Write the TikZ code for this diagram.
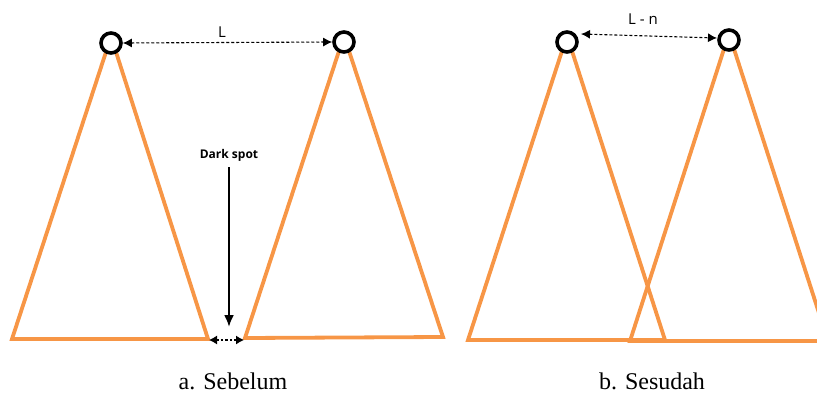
\documentclass[tikz,border=0pt]{standalone}
\usepackage{fontspec}
\setmainfont{Liberation Serif}
\newfontfamily\uisans{Open Sans}
\usetikzlibrary{arrows.meta,calc}
\definecolor{beamorange}{HTML}{F79646}
\begin{document}
\begin{tikzpicture}[x=1pt,y=-1pt,
  beam/.style={draw=beamorange, line width=3.8pt, line join=miter, line cap=round},
  lamp/.style={circle, draw=black, line width=3.6pt, fill=white, minimum size=20pt, inner sep=0pt},
  dist/.style={dash pattern=on 3pt off 2pt, line width=1.1pt, {Latex[length=9pt,width=9pt]}-{Latex[length=9pt,width=9pt]}},
  gap/.style={dash pattern=on 2.5pt off 2pt, line width=1.1pt, {Latex[length=8pt,width=9pt]}-{Latex[length=8pt,width=9pt]}},
  spotarrow/.style={line width=2.2pt, -{Latex[length=12pt,width=10pt]}},
  lbl/.style={font=\uisans\fontsize{15}{17}\selectfont, inner sep=0pt},
  spotlbl/.style={font=\uisans\bfseries\fontsize{12}{14}\selectfont, inner sep=0pt},
  captext/.style={font=\fontsize{24}{27}\selectfont, inner sep=0pt}]
\useasboundingbox (0,0) rectangle (817,396);
\clip (0,0) rectangle (817,396);
% lamp centres
\coordinate (p1) at (111,43);
\coordinate (p2) at (344,42);
\coordinate (p3) at (567,42);
\coordinate (p4) at (729,40);
% triangle corners
\coordinate (b1l) at (12,339);
\coordinate (b1r) at (208,339);
\coordinate (b2l) at (245,338);
\coordinate (b2r) at (443,337);
\coordinate (b3l) at (468,340);
\coordinate (b3r) at (665,340);
\coordinate (b4l) at (630,341);
\coordinate (b4r) at (828,341);
% beams
\draw[beam] ($(p1)+(-5,9)$) -- (b1l) -- (b1r) -- ($(p1)+(5,9)$);
\draw[beam] ($(p2)+(-5,9)$) -- (b2l) -- (b2r) -- ($(p2)+(5,9)$);
\draw[beam] ($(p3)+(-5,9)$) -- (b3l) -- (b3r) -- ($(p3)+(5,9)$);
\draw[beam] ($(p4)+(-5,9)$) -- (b4l) -- (b4r) -- ($(p4)+(5,9)$);
% lamps on top
\node[lamp] (c1) at (p1) {};
\node[lamp] (c2) at (p2) {};
\node[lamp] (c3) at (p3) {};
\node[lamp] (c4) at (p4) {};
% distances
\draw[dist] (c1.east) -- (c2.west);
\node[lbl] (l1) at (222,32) {L};
\coordinate (d3) at (581,34);
\coordinate (d4) at (717,38);
\draw[dist] (d3) -- (d4);
\node[lbl] (ln) at (643,19) {L - n};
% dark spot
\node[spotlbl] (ds) at (229,155) {Dark spot};
\coordinate (dsend) at (229,327);
\draw[spotarrow] ($(ds.south)+(0,6)$) -- (dsend);
\coordinate (g1) at (209,340);
\coordinate (g2) at (244,340);
\draw[gap] (g1) -- (g2);
% captions
\node[captext] (ca) at (233,381) {a. Sebelum};
\node[captext] (cb) at (652,381) {b. Sesudah};
\end{tikzpicture}
\end{document}
